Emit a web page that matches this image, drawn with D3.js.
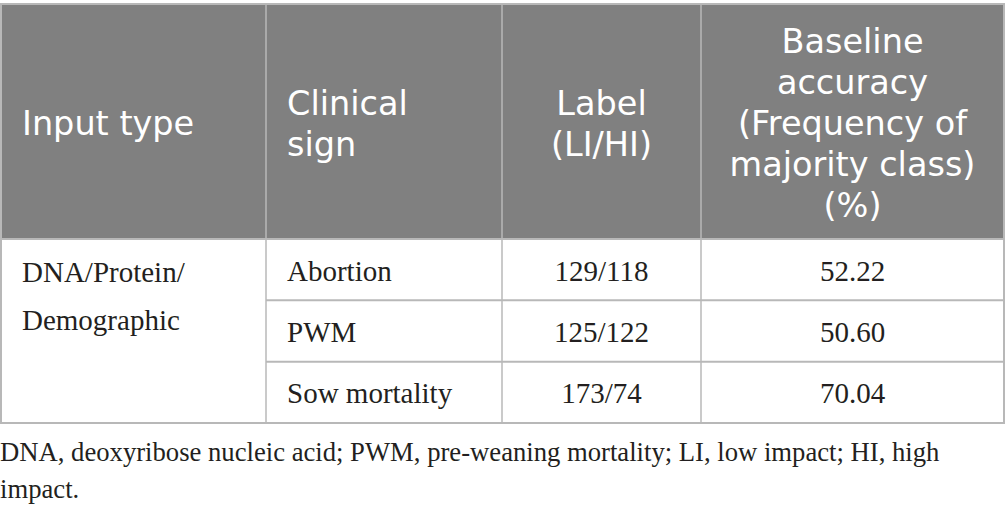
<!DOCTYPE html>
<html><head><meta charset="utf-8">
<script src="https://cdn.jsdelivr.net/npm/d3@7"></script>
<style>html,body{margin:0;padding:0;background:#fff;}svg{display:block;}</style>
</head><body>
<script>
// ---- data ----
const headers = [["Input type"], ["Clinical", "sign"], ["Label", "(LI/HI)"],
  ["Baseline", "accuracy", "(Frequency of", "majority class)", "(%)"]];
const inputType = ["DNA/Protein/", "Demographic"];
const clinicalSigns = ["Abortion", "PWM", "Sow mortality"];
const labels = ["129/118", "125/122", "173/74"];
const baselineAcc = ["52.22", "50.60", "70.04"];
const footnote = ["DNA, deoxyribose nucleic acid; PWM, pre-weaning mortality; LI, low impact; HI, high", "impact."];

// ---- layout ----
const W = 1005, H = 513;
const colX = d3.scaleOrdinal().domain([0,1,2,3,4]).range([1, 266, 502, 701, 1004]);
const tableTop = 4, headBot = 239, bodyBot = 423;
const rowY = d3.scaleLinear().domain([0, clinicalSigns.length]).range([headBot, bodyBot]);
const align = ["start", "start", "middle", "middle"];
const border = "#b8b8b8";
const sans = "'DejaVu Sans', sans-serif", serif = "'Liberation Serif', serif";

const svg = d3.select("body").append("svg").attr("width", W).attr("height", H);

svg.append("rect").attr("x", colX(0)).attr("y", tableTop).attr("width", colX(4) - colX(0))
  .attr("height", headBot - tableTop).attr("fill", "#808080");

function textX(c) {
  if (align[c] === "middle") return (colX(c) + colX(c + 1)) / 2;
  return colX(c) + 21;
}

// header text
const headMid = 135.3, lh = 41;
headers.forEach((lines, c) => {
  svg.append("g").selectAll("text").data(lines).join("text")
    .attr("x", textX(c))
    .attr("y", (d, i) => headMid + (i - (lines.length - 1) / 2) * lh)
    .attr("text-anchor", align[c])
    .attr("font-family", sans).attr("font-size", 33.5).attr("fill", "#fff")
    .text(d => d);
});

// grid lines
const g = svg.append("g");
g.selectAll("line.h").data(d3.range(1, clinicalSigns.length)).join("line")
  .attr("x1", colX(1)).attr("x2", colX(4))
  .attr("y1", d => rowY(d)).attr("y2", d => rowY(d))
  .attr("stroke", border).attr("stroke-width", 2);
g.selectAll("line.v").data([1, 2, 3]).join("line")
  .attr("x1", d => colX(d)).attr("x2", d => colX(d))
  .attr("y1", tableTop).attr("y2", bodyBot)
  .attr("stroke", border).attr("stroke-width", 1.5);
svg.append("rect").attr("x", colX(0)).attr("y", tableTop).attr("width", colX(4) - colX(0))
  .attr("height", bodyBot - tableTop).attr("fill", "none").attr("stroke", border).attr("stroke-width", 2);
svg.append("line").attr("x1", colX(0)).attr("x2", colX(4)).attr("y1", headBot).attr("y2", headBot)
  .attr("stroke", border).attr("stroke-width", 2);

const bodyFont = 29, txtCol = "#231f20";
svg.append("g").selectAll("text").data(inputType).join("text")
  .attr("x", textX(0)).attr("y", (d, i) => 281.5 + i * 48.5)
  .attr("font-family", serif).attr("font-size", bodyFont).attr("fill", txtCol).text(d => d);

const cols = [clinicalSigns, labels, baselineAcc];
cols.forEach((arr, k) => {
  const c = k + 1;
  svg.append("g").selectAll("text").data(arr).join("text")
    .attr("x", textX(c))
    .attr("y", (d, i) => (rowY(i) + rowY(i + 1)) / 2 + 11)
    .attr("text-anchor", align[c])
    .attr("font-family", serif).attr("font-size", bodyFont).attr("fill", txtCol)
    .text(d => d);
});

// footnote, sized so the first line spans the same width as in the reference
const fn = svg.append("g").selectAll("text").data(footnote).join("text")
  .attr("x", 0).attr("y", (d, i) => 460.5 + i * 37.5)
  .attr("font-family", serif).attr("font-size", 100).attr("fill", txtCol).text(d => d);
const w100 = fn.nodes()[0].getComputedTextLength();
fn.attr("font-size", Math.min(29, 100 * 940 / w100));
</script>
</body></html>
